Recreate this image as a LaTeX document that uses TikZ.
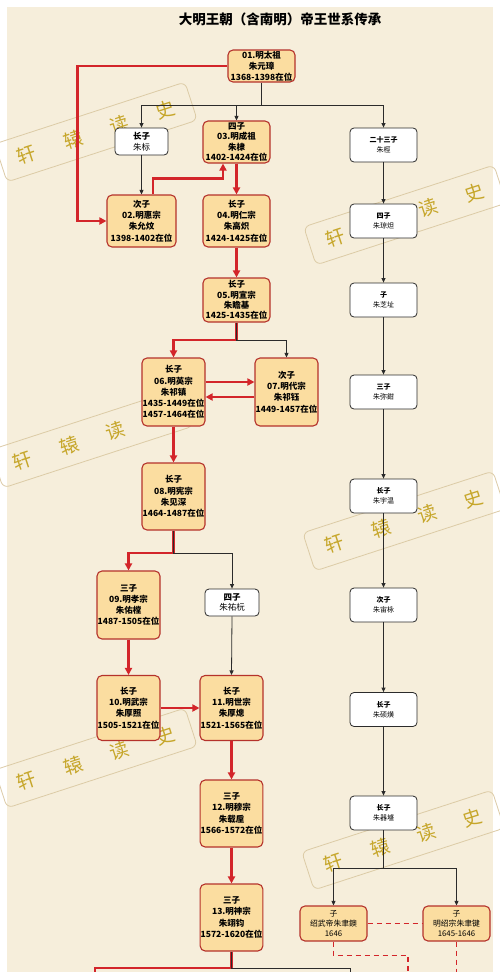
\documentclass[tikz,border=0pt]{standalone}
\usepackage{fontspec}
\setmainfont{Noto Sans CJK SC}
\usepackage{tikz}
\usetikzlibrary{arrows.meta, positioning, calc}
\definecolor{paperbg}{HTML}{F6EEDB}
\definecolor{emperorfill}{HTML}{FBDDA0}
\definecolor{emperorline}{HTML}{B5322B}
\definecolor{throneRed}{HTML}{D3252A}
\definecolor{lineDark}{HTML}{2B2B2B}
\definecolor{stampgold}{HTML}{C6A62A}
\definecolor{stampframe}{HTML}{DCCBA6}

\tikzset{
  emperor/.style={draw=emperorline, fill=emperorfill, line width=1.1pt, rounded corners=5pt,
    align=center, inner sep=0.5pt, font=\bfseries\fontsize{8.5}{11.2}\selectfont},
  prince/.style={draw=lineDark, fill=white, line width=0.8pt, rounded corners=4pt,
    align=center, inner sep=1pt, font=\fontsize{8.5}{10.5}\selectfont},
  branch/.style={prince, minimum width=67pt, minimum height=34pt, font=\fontsize{7}{10}\selectfont},
  southern/.style={emperor, minimum width=67pt, minimum height=35pt, font=\fontsize{7.8}{10.2}\selectfont},
  reign/.style={draw=throneRed, line width=2.2pt},
  reignarrow/.style={reign, -{Triangle[length=7pt,width=7pt]}},
  kin/.style={draw=lineDark, line width=0.8pt},
  kinarrow/.style={kin, -{Triangle[length=4.5pt,width=4pt]}},
  claim/.style={draw=throneRed, line width=1.6pt, dash pattern=on 5pt off 4pt},
}

\begin{document}
\begin{tikzpicture}[x=1pt, y=-1pt]
    % ── paper ─────────────────────────────────────────────────────────
    \useasboundingbox (0,0) rectangle (500,972);
    \fill[white] (0,0) rectangle (500,972);
    \fill[paperbg] (7,7) rectangle (493,972);

    % ── watermarks (third value: letter hidden under a box) ───────────
    \foreach \wx/\wy/\hid in {96/132/0, 405/215/2, 92/438/4, 404/521/0, 96/758/0, 403/840/0}{
        \begin{scope}[shift={(\wx,\wy)}, rotate=18, transform shape]
            \draw[stampframe, line width=0.8pt, rounded corners=6pt] (-100,-20) rectangle (100,20);
            \foreach \ch [count=\k] in {轩,辕,读,史}{
                \ifnum\k=\hid\else
                    \node[text=stampgold, font=\fontsize{19}{19}\selectfont] (wm-\wx-\k) at ({-73+48.7*(\k-1)},0) {\ch};
                \fi
            }
        \end{scope}
    }

    \node[font=\bfseries\fontsize{13.5}{15}\selectfont] (title) at (280,19) {大明王朝（含南明）帝王世系传承};

    % ── main line ─────────────────────────────────────────────────────
    \node[emperor, minimum width=67pt, minimum height=32pt] (n01) at (261.5,66) {01.明太祖\\朱元璋\\1368-1398在位};
    \node[prince, minimum width=53pt, minimum height=27pt] (biao) at (141.5,141.5) {{\bfseries 长子}\\朱标};
    \node[emperor, minimum width=67pt, minimum height=42pt, font=\bfseries\fontsize{8.5}{10.2}\selectfont] (n03) at (236.5,142) {四子\\03.明成祖\\朱棣\\1402-1424在位};
    \node[emperor, minimum width=69pt, minimum height=52pt] (n02) at (141.5,221) {次子\\02.明惠宗\\朱允炆\\1398-1402在位};
    \node[emperor, minimum width=67pt, minimum height=52pt] (n04) at (236.5,221) {长子\\04.明仁宗\\朱高炽\\1424-1425在位};
    \node[emperor, minimum width=67pt, minimum height=44pt, font=\bfseries\fontsize{8.5}{10.4}\selectfont] (n05) at (236.5,300) {长子\\05.明宣宗\\朱瞻基\\1425-1435在位};
    \node[emperor, minimum width=63pt, minimum height=68pt] (n06) at (173.5,392) {长子\\06.明英宗\\朱祁镇\\1435-1449在位\\1457-1464在位};
    \node[emperor, minimum width=63pt, minimum height=68pt] (n07) at (286.5,392) {次子\\07.明代宗\\朱祁钰\\1449-1457在位};
    \node[emperor, minimum width=63pt, minimum height=67pt] (n08) at (173.5,496.5) {长子\\08.明宪宗\\朱见深\\1464-1487在位};
    \node[emperor, minimum width=63pt, minimum height=68pt] (n09) at (128.5,605) {三子\\09.明孝宗\\朱佑樘\\1487-1505在位};
    \node[prince, minimum width=54pt, minimum height=27pt] (youyuan) at (232,602.5) {{\bfseries 四子}\\朱祐杬};
    \node[emperor, minimum width=63pt, minimum height=65pt] (n10) at (128.5,708) {长子\\10.明武宗\\朱厚照\\1505-1521在位};
    \node[emperor, minimum width=63pt, minimum height=65pt] (n11) at (231.5,708) {长子\\11.明世宗\\朱厚熜\\1521-1565在位};
    \node[emperor, minimum width=62pt, minimum height=67pt] (n12) at (231.5,813.5) {三子\\12.明穆宗\\朱载垕\\1566-1572在位};
    \node[emperor, minimum width=62pt, minimum height=67pt] (n13) at (231.5,917.5) {三子\\13.明神宗\\朱翊钧\\1572-1620在位};

    % ── Tang branch ───────────────────────────────────────────────────
    \node[branch] (jing) at (383.5,145) {{\bfseries 二十三子}\\朱桱};
    \node[branch] (qiongda) at (383.5,221) {{\bfseries 四子}\\朱琼炟};
    \node[branch] (zhizhi) at (383.5,300) {{\bfseries 子}\\朱芝址};
    \node[branch] (miqian) at (383.5,392) {{\bfseries 三子}\\朱弥鉗};
    \node[branch] (yuwen) at (383.5,496) {{\bfseries 长子}\\朱宇温};
    \node[branch] (zhouyong) at (383.5,605) {{\bfseries 次子}\\朱宙栐};
    \node[branch] (shuohuang) at (383.5,709.5) {{\bfseries 长子}\\朱硕熿};
    \node[branch] (qicheng) at (383.5,813) {{\bfseries 长子}\\朱器墭};
    \node[southern] (shaowu) at (333.5,923.5) {子\\{\mdseries 绍武帝朱聿鐭}\\1646};
    \node[southern] (longwu) at (456.5,923.5) {子\\{\mdseries 明绍宗朱聿键}\\1645-1646};

    % ── connectors ────────────────────────────────────────────────────
    \coordinate (s01) at (261.5,105);
    \coordinate (s05) at (236.5,340);
    \coordinate (s08) at (173.5,553);
    \coordinate (s13) at (231.5,968);
    \coordinate (s14) at (383.5,868);
    \coordinate (tailR) at (95,990);
    \coordinate (tailK) at (350,990);
    \coordinate (tailA) at (408,990);

    \draw[reignarrow] (n01.west) -- ++(-150,0) |- (n02.west);
    \draw[kin] (n01.south) -- (s01);
    \draw[kinarrow] (s01) -| (biao.north);
    \draw[kinarrow] (s01) -| (n03.north);
    \draw[kinarrow] (s01) -| (jing.north);
    \draw[kinarrow] (biao.south) -- (n02.north);
    \draw[reignarrow] ([xshift=11.5pt]n02.north) -- ++(0,-16) -| ([xshift=-13.5pt]n03.south);
    \draw[reignarrow] (n03.south) -- (n04.north);
    \draw[reignarrow] (n04.south) -- (n05.north);
    \draw[reignarrow] (n05.south) -- (s05) -| (n06.north);
    \draw[kinarrow] (n05.south) -- (s05) -| (n07.north);
    \draw[reignarrow] ([yshift=10pt]n06.east) -- ([yshift=10pt]n07.west);
    \draw[reignarrow] ([yshift=-5pt]n07.west) -- ([yshift=-5pt]n06.east);
    \draw[reignarrow] (n06.south) -- (n08.north);
    \draw[reignarrow] (n08.south) -- (s08) -| (n09.north);
    \draw[kinarrow] (n08.south) -- (s08) -| (youyuan.north);
    \draw[reignarrow] (n09.south) -- (n10.north);
    \draw[kinarrow] (youyuan.south) -- (n11.north);
    \draw[reignarrow] (n10.east) -- (n11.west);
    \draw[reignarrow] (n11.south) -- (n12.north);
    \draw[reignarrow] (n12.south) -- (n13.north);
    \draw[reign] (n13.south) -- (s13) -| (tailR);
    \draw[kin] (n13.south) -- (s13) -| (tailK);

    \draw[kinarrow] (jing) -- (qiongda);
    \draw[kinarrow] (qiongda) -- (zhizhi);
    \draw[kinarrow] (zhizhi) -- (miqian);
    \draw[kinarrow] (miqian) -- (yuwen);
    \draw[kinarrow] (yuwen) -- (zhouyong);
    \draw[kinarrow] (zhouyong) -- (shuohuang);
    \draw[kinarrow] (shuohuang) -- (qicheng);
    \draw[kin] (qicheng.south) -- (s14);
    \draw[kinarrow] (s14) -| (shaowu.north);
    \draw[kinarrow] (s14) -| (longwu.north);

    \draw[claim] (shaowu.east) -- (longwu.west);
    \draw[claim] (shaowu.south) -- ++(0,14) -| (tailA);
    \draw[claim] (longwu.south) -- (longwu.south |- tailA);
\end{tikzpicture}
\end{document}
